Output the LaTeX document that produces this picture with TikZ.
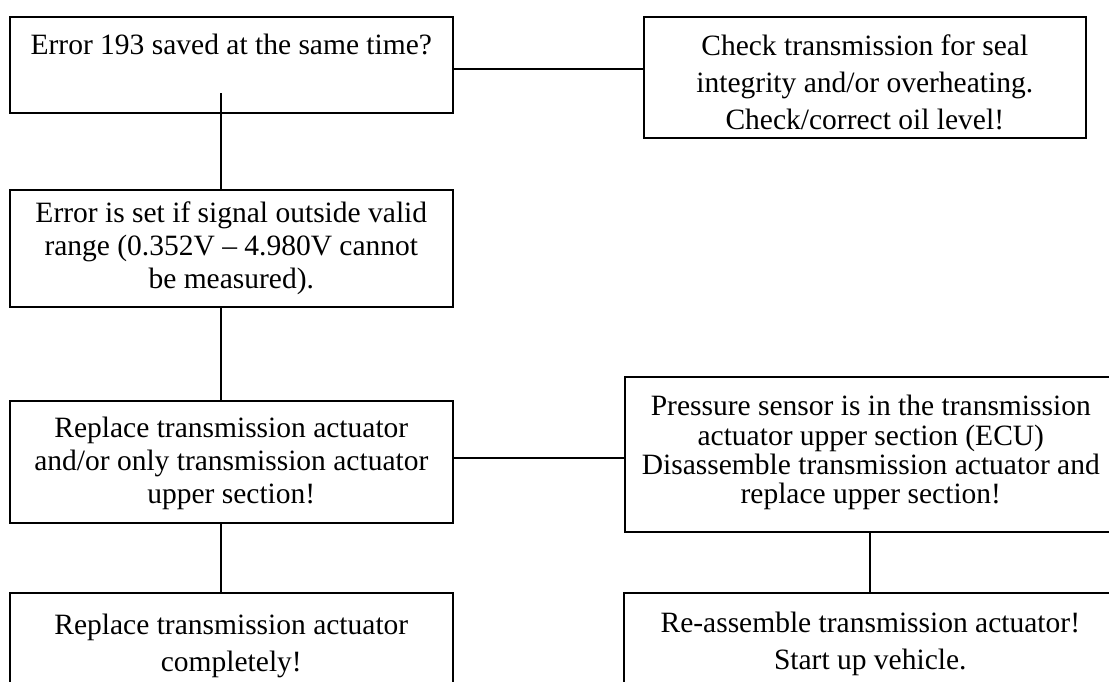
\documentclass[tikz,border=0pt]{standalone}
\usepackage{fontspec}
\setmainfont{Liberation Serif}
\tikzset{
  box/.style={draw=black, line width=1.6pt, rectangle, anchor=north west,
              inner sep=0pt, align=flush center},
  conn/.style={draw=black, line width=1.6pt},
}
\newcommand{\fs}[1]{\fontsize{29.5}{#1}\selectfont}
\begin{document}
\begin{tikzpicture}[x=1pt, y=-1pt]
\useasboundingbox (0,0) rectangle (1109,681);
\clip (0,0) rectangle (1109,681);
% boxes
\node[box, text width=443pt, text height=38pt, text depth=58pt, font=\fs{36.7}] (b1) at (9,16)
  {Error 193 saved at the same time?};
\node[box, text width=442pt, text height=39pt, text depth=82pt, font=\fs{36.7}] (b2) at (643,16)
  {Check transmission for seal\\integrity and/or overheating.\\Check/correct oil level!};
\node[box, text width=443pt, text height=33pt, text depth=84pt, font=\fs{33}] (b3) at (9,189)
  {Error is set if signal outside valid\\range (0.352V -- 4.980V cannot\\be measured).};
\node[box, text width=443pt, text height=37pt, text depth=85pt, font=\fs{33}] (b4) at (9,400)
  {Replace transmission actuator\\and/or only transmission actuator\\upper section!};
\node[box, text width=492pt, text height=39pt, text depth=116pt, font=\fs{29.3}] (b5) at (624,376)
  {Pressure sensor is in the transmission\\actuator upper section (ECU)\\Disassemble transmission actuator and\\replace upper section!};
\node[box, text width=443pt, text height=42pt, text depth=56pt, font=\fs{36.7}] (b6) at (9,592)
  {Replace transmission actuator\\completely!};
\node[box, text width=493pt, text height=40pt, text depth=58pt, font=\fs{36.7}] (b7) at (623,592)
  {Re-assemble transmission actuator!\\Start up vehicle.};
% helper coordinates
\coordinate (v1) at (221,93);
\coordinate (v5) at (870,531);
\coordinate (h1) at (643,69);
\coordinate (h4) at (624,458);
% connectors
\draw[conn] (b1.east |- h1) -- (b2.west |- h1);
\draw[conn] (v1) -- (v1 |- b3.north);
\draw[conn] (v1 |- b3.south) -- (v1 |- b4.north);
\draw[conn] (b4.east |- h4) -- (b5.west |- h4);
\draw[conn] (v1 |- b4.south) -- (v1 |- b6.north);
\draw[conn] (v5 |- b5.south) -- (v5 |- b7.north);
\end{tikzpicture}
\end{document}
